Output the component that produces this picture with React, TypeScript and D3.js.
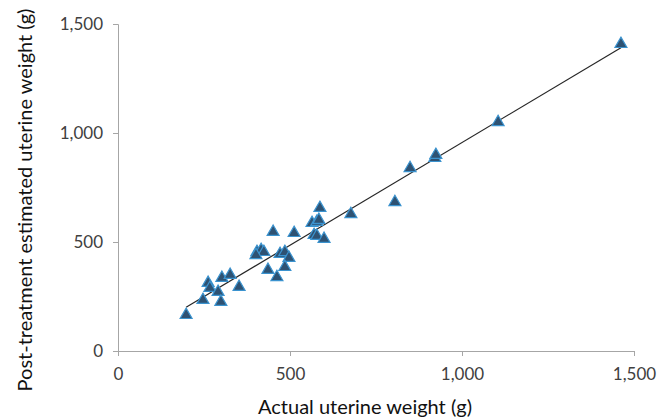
import React, { useEffect, useRef } from "react";
import * as d3 from "d3";

// actual uterine weight (g)
const actualWeight = [
	198, 247, 262, 267, 291, 299, 302, 326, 352, 436, 462, 451, 512, 404, 416, 424,
	401, 471, 485, 497, 485, 587, 564, 578, 584, 570, 578, 599, 677, 805, 849, 921,
	924, 1105, 1462,
];
// post-treatment estimated uterine weight (g)
const estimatedWeight = [
	165, 234, 312, 289, 271, 225, 335, 349, 294, 372, 339, 546, 541, 454, 463, 454,
	440, 445, 454, 427, 385, 656, 587, 592, 601, 532, 528, 514, 628, 683, 839, 885,
	899, 1050, 1408,
];
const xTicks = [0, 500, 1000, 1500];
const yTicks = [0, 500, 1000, 1500];

const width = 662;
const height = 420;
const margin = { top: 24, right: 28, bottom: 69, left: 118 };
const font = "Lato, 'Open Sans', sans-serif";

function App() {
	const node = useRef<SVGSVGElement | null>(null);

	useEffect(() => {
		const svg = d3.select(node.current);
		svg.selectAll("*").remove();

		const w = width - margin.left - margin.right;
		const h = height - margin.top - margin.bottom;
		const fmt = d3.format(",");

		const x = d3.scaleLinear().domain([0, 1500]).range([0, w]);
		const y = d3.scaleLinear().domain([0, 1500]).range([h, 0]);

		const g = svg.append("g").attr("transform", `translate(${margin.left},${margin.top})`);

		const xAxis = g
			.append("g")
			.attr("transform", `translate(0,${h})`)
			.call(d3.axisBottom(x).tickValues(xTicks).tickFormat(d => fmt(d as number)).tickSize(5).tickPadding(12));
		const yAxis = g
			.append("g")
			.call(d3.axisLeft(y).tickValues(yTicks).tickFormat(d => fmt(d as number)).tickSize(5).tickPadding(10));

		[xAxis, yAxis].forEach(a => {
			a.select(".domain").attr("stroke", "#a6a6a6");
			a.selectAll(".tick line").attr("stroke", "#a6a6a6");
			a.selectAll(".tick text")
				.attr("fill", "#404040")
				.style("font-family", font)
				.style("font-size", "17px");
		});

		// linear trendline (least squares)
		const pts = actualWeight.map((v, i) => [v, estimatedWeight[i]]);
		const mx = d3.mean(actualWeight) as number;
		const my = d3.mean(estimatedWeight) as number;
		const slope =
			(d3.sum(pts, p => (p[0] - mx) * (p[1] - my)) as number) /
			(d3.sum(pts, p => (p[0] - mx) ** 2) as number);
		const icpt = my - slope * mx;
		const [x0, x1] = d3.extent(actualWeight) as [number, number];

		g.append("line")
			.attr("x1", x(x0))
			.attr("y1", y(icpt + slope * x0))
			.attr("x2", x(x1))
			.attr("y2", y(icpt + slope * x1))
			.attr("stroke", "#262626")
			.attr("stroke-width", 1.2);

		const tri = d3.symbol().type(d3.symbolTriangle).size(62);
		g.selectAll(".pt")
			.data(pts)
			.enter()
			.append("path")
			.attr("class", "pt")
			.attr("d", tri)
			.attr("transform", d => `translate(${x(d[0])},${y(d[1])})`)
			.attr("fill", "#2e5273")
			.attr("stroke", "#3b93cf")
			.attr("stroke-width", 1.2);

		svg.append("text")
			.attr("x", 365)
			.attr("y", 414)
			.attr("text-anchor", "middle")
			.attr("fill", "#111")
			.style("font-family", font)
			.style("font-size", "20px")
			.text("Actual uterine weight (g)");

		svg.append("text")
			.attr("transform", `translate(32,200) rotate(-90)`)
			.attr("text-anchor", "middle")
			.attr("fill", "#111")
			.style("font-family", font)
			.style("font-size", "20px")
			.text("Post-treatment estimated uterine weight (g)");
	}, []);

	return (
		<div>
			<style>{`body{margin:0}`}</style>
			<svg ref={node} width={width} height={height} style={{ display: "block", background: "#fff" }} />
		</div>
	);
}

export default App;
